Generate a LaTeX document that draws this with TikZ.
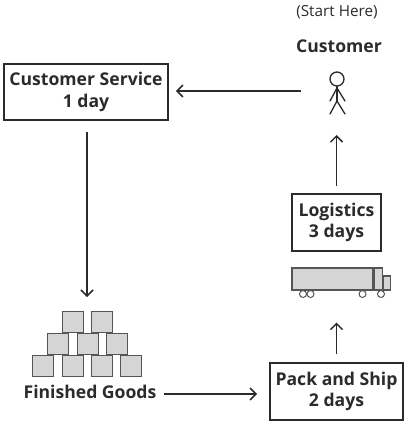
\documentclass[tikz,border=0pt]{standalone}
\usepackage{fontspec}
\setmainfont{Open Sans}
\usetikzlibrary{arrows.meta}
\definecolor{ink}{HTML}{2B2B2B}
\definecolor{crategray}{HTML}{D5D5D5}
\definecolor{crateedge}{HTML}{555555}
\begin{document}
\begin{tikzpicture}[x=1pt,y=-1pt,
  proc/.style={draw=ink, line width=1.8pt, fill=white, text=ink,
    font=\bfseries\fontsize{17.6}{21.5}\selectfont, align=center, inner sep=0pt},
  lbl/.style={text=ink, font=\bfseries\fontsize{17.6}{21.5}\selectfont, inner sep=0pt},
  flow/.style={draw=ink, line width=1.5pt,
    -{Straight Barb[length=6pt,width=12pt,line width=1.5pt]}},
  crate/.style={draw=crateedge, fill=crategray, line width=1.1pt,
    minimum size=21pt, inner sep=0pt, anchor=north west},
  fig/.style={draw=ink, line width=1.3pt, line cap=round}]
\useasboundingbox (0,0) rectangle (406,423);
% texts
\node[text=ink, font=\fontsize{15.3}{18}\selectfont, inner sep=0pt] (start) at (337,12) {(Start Here)};
\node[lbl] (custlbl) at (339,46) {Customer};
% stick figure
\node[fig, circle, minimum size=14pt, inner sep=0pt] (head) at (337,79) {};
\coordinate (hip) at (337,101);
\coordinate (feet) at (337,114);
\draw[fig] (head.south) -- (hip);
\draw[fig] (330,101) -- (337,88) -- (345,101);
\draw[fig] (330,114) -- (hip) -- (345,114);
\coordinate (custL) at (301,91);
% boxes
\node[proc, minimum width=164pt, minimum height=56pt] (cs) at (86,92) {Customer Service\\1 day};
\node[proc, minimum width=89pt, minimum height=57pt] (log) at (336.5,222.5) {Logistics\\3 days};
\node[proc, minimum width=133pt, minimum height=57pt] (pack) at (336.5,391.5) {Pack and Ship\\2 days};
% truck
\node[draw=crateedge, fill=crategray, line width=1.1pt, minimum width=81pt, minimum height=22pt, inner sep=0pt] (trailer) at (332.5,279) {};
\node[draw=crateedge, fill=crategray, line width=1.1pt, minimum width=8pt, minimum height=22pt, inner sep=0pt, anchor=west] (cab) at (trailer.east) {};
\node[draw=crateedge, fill=crategray, line width=1.1pt, minimum width=7pt, minimum height=14pt, inner sep=0pt, anchor=south west] (hood) at (cab.south east) {};
\foreach \wx/\wn in {303/w1, 310.5/w2, 362.5/w3, 381/w4}
  \node[draw=crateedge, fill=white, line width=1pt, circle, minimum size=7pt, inner sep=0pt] (\wn) at (\wx,294) {};
% crates
\foreach \cx/\cn in {32/b1, 62/b2, 91/b3, 120/b4}
  \node[crate] (\cn) at (\cx,354.5) {};
\foreach \cx/\cn in {47/m1, 76.5/m2, 106/m3}
  \node[crate] (\cn) at (\cx,332.5) {};
\foreach \cx/\cn in {61.5/t1, 91/t2}
  \node[crate] (\cn) at (\cx,310.5) {};
\coordinate (pile) at (87,310);
\node[lbl] (fg) at (90,392) {Finished Goods};
% connectors
\draw[flow, shorten >=7pt] (custL) -- (cs.east |- custL);
\draw[flow, shorten <=11pt, shorten >=13pt] (cs.south -| pile) -- (pile);
\draw[flow, shorten <=7pt, shorten >=12pt] (fg.east |- 0,394) -- (pack.west |- 0,394);
\draw[flow, shorten <=8pt, shorten >=32pt] (pack.north) -- (pack.north |- trailer.south);
\draw[flow, shorten <=7pt, shorten >=21pt] (log.north) -- (log.north |- feet);
\end{tikzpicture}
\end{document}
